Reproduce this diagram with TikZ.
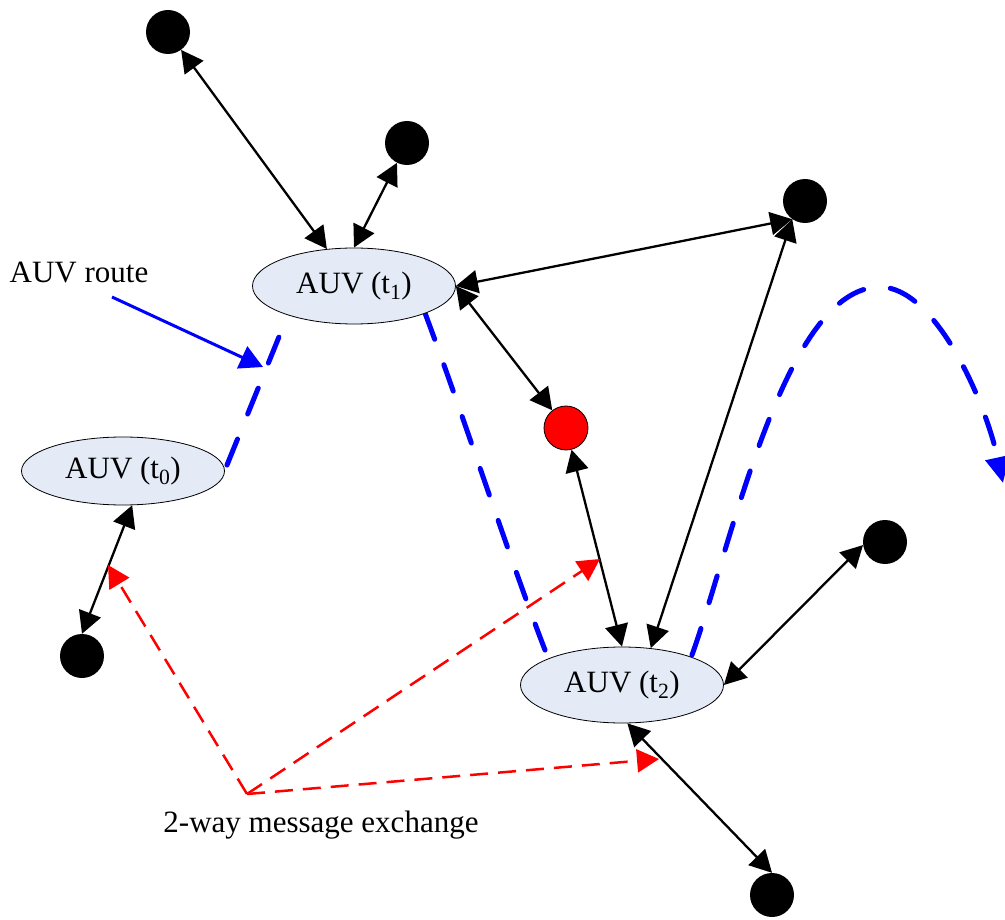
\documentclass[tikz,border=0pt]{standalone}
\usepackage{fontspec}
\setmainfont{Liberation Serif}
\usetikzlibrary{arrows.meta,shapes.geometric}
\definecolor{auvfill}{RGB}{228,235,246}
\begin{document}
\begin{tikzpicture}[x=1pt,y=-1pt,
  blackdot/.style={circle,fill=black,minimum size=44pt,inner sep=0pt},
  reddot/.style={circle,fill=red,draw=black,line width=0.8pt,minimum size=44pt,inner sep=0pt},
  auvnode/.style={ellipse,draw=black,line width=0.8pt,fill=auvfill,minimum width=203pt,minimum height=76pt,inner sep=0pt,font=\fontsize{31}{37}\selectfont},
  linkline/.style={black,line width=2.3pt,{Triangle[length=22pt,width=23pt]}-{Triangle[length=22pt,width=23pt]}},
  msgarrow/.style={red,line width=2.5pt,dash pattern=on 18pt off 10pt,-{Triangle[length=22pt,width=23pt]}},
  routeline/.style={blue,line width=5pt,line cap=round,dash pattern=on 28pt off 27pt},
  lbltext/.style={font=\fontsize{31}{37}\selectfont,inner sep=0pt}]
\useasboundingbox (0,0) rectangle (1005,920);

% AUV route (drawn first, behind nodes)
\coordinate (rA0) at (227,465);
\coordinate (rA1) at (283,327);
\coordinate (rB0) at (425,313);
\coordinate (rB1) at (545,650);
\coordinate (rC0) at (692,655);
\coordinate (rCtop) at (880,287);
\coordinate (rCend) at (1003,483);
\draw[routeline] (rA0) -- (rA1);
\draw[routeline] (rB0) .. controls (465,420) and (510,560) .. (rB1);
\draw[routeline,-{Triangle[length=26pt,width=24pt]}] (rC0) .. controls (733,540) and (785,287) .. (rCtop) .. controls (935,287) and (985,400) .. (rCend);

% nodes
\node[auvnode] (E0) at (123,471) [minimum height=68pt] {AUV (t\textsubscript{0})};
\node[auvnode] (E1) at (354,286) {AUV (t\textsubscript{1})};
\node[auvnode] (E2) at (622,685) {AUV (t\textsubscript{2})};
\node[blackdot] (d1) at (168,32) {};
\node[blackdot] (d2) at (407,143) {};
\node[blackdot] (d3) at (805,201) {};
\node[blackdot] (d4) at (885,542) {};
\node[blackdot] (d5) at (82,656) {};
\node[blackdot] (d6) at (772,895) {};
\node[reddot] (red) at (566,428) {};

% links
\draw[linkline] (d1) -- (E1);
\draw[linkline] (d2) -- (E1.north);
\draw[linkline] (d3.235) -- (E1.east);
\draw[linkline] (E1.east) -- (red);
\draw[linkline] (red) -- (E2.north);
\draw[linkline] (d3.235) -- (E2.52);
\draw[linkline] (d4.188) -- (E2.east);
\draw[linkline] (E2.-82) -- (d6.north);
\draw[linkline] (E0.-75) -- (d5.north);

% labels
\node[lbltext] (routelbl) at (79,273) {AUV route};
\coordinate (routetail) at (112,297);
\coordinate (routehead) at (263,367);
\draw[blue,line width=3pt,-{Triangle[length=23pt,width=24pt]}] (routetail) -- (routehead);

\node[lbltext] (msglbl) at (321,825) {2-way message exchange};
\coordinate (msgorigin) at (247,794);
\coordinate (m0) at (108,565);
\coordinate (m1) at (600,559);
\coordinate (m2) at (659,759);
\draw[msgarrow] (msgorigin) -- (m0);
\draw[msgarrow] (msgorigin) -- (m1);
\draw[msgarrow] (msgorigin) -- (m2);
\end{tikzpicture}
\end{document}
